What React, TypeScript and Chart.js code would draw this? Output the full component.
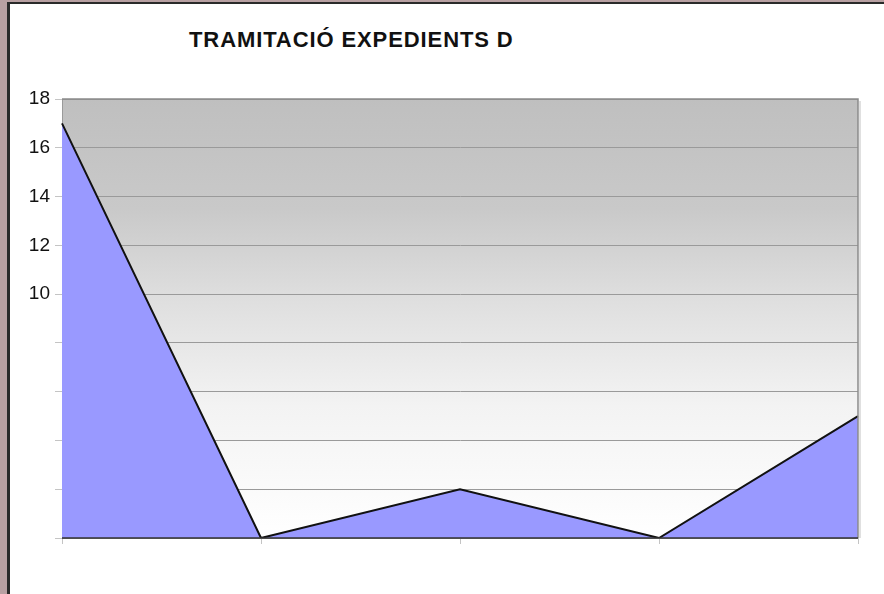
import React, { useEffect, useRef } from "react";
import { Chart, registerables } from "chart.js";

Chart.register(...registerables);

const chartTitle = "TRAMITACIÓ EXPEDIENTS D";
const categories = ["1", "2", "3", "4", "5"];
const seriesValues = [17, 0, 2, 0, 5];
const labelledTicks = [10, 12, 14, 16, 18];

const plotBackground = {
  id: "plotBackground",
  beforeDraw(chart: any) {
    const { ctx, chartArea } = chart;
    if (!chartArea) return;
    const { left, top, right, bottom } = chartArea;
    const g = ctx.createLinearGradient(0, top, 0, bottom);
    g.addColorStop(0, "#bfbfbf");
    g.addColorStop(0.25, "#c9c9c9");
    g.addColorStop(0.45, "#dedede");
    g.addColorStop(0.7, "#f3f3f3");
    g.addColorStop(1, "#ffffff");
    ctx.save();
    ctx.fillStyle = g;
    ctx.fillRect(left, top, right - left, bottom - top);
    ctx.restore();
  },
  afterDatasetsDraw(chart: any) {
    const { ctx, chartArea } = chart;
    const { left, top, right, bottom } = chartArea;
    ctx.save();
    ctx.strokeStyle = "#8a8a8a";
    ctx.lineWidth = 1.5;
    ctx.beginPath();
    ctx.moveTo(left, top);
    ctx.lineTo(right, top);
    ctx.lineTo(right, bottom);
    ctx.stroke();
    ctx.strokeStyle = "rgba(0,0,0,0.12)";
    ctx.lineWidth = 2;
    ctx.beginPath();
    ctx.moveTo(right + 2, top + 2);
    ctx.lineTo(right + 2, bottom);
    ctx.stroke();
    ctx.strokeStyle = "#333333";
    ctx.lineWidth = 1.5;
    ctx.beginPath();
    ctx.moveTo(left, bottom);
    ctx.lineTo(right, bottom);
    ctx.stroke();
    ctx.restore();
  },
};

export default function App() {
  const ref = useRef<HTMLCanvasElement | null>(null);

  useEffect(() => {
    document.body.style.margin = "0";
    const canvas = ref.current;
    if (!canvas) return;
    const chart = new Chart(canvas, {
      type: "line",
      data: {
        labels: categories,
        datasets: [
          {
            data: seriesValues,
            fill: "origin",
            backgroundColor: "#9999ff",
            borderColor: "#111111",
            borderWidth: 2,
            pointRadius: 0,
            tension: 0,
          },
        ],
      },
      options: {
        animation: false,
        responsive: false,
        maintainAspectRatio: false,
        plugins: {
          legend: { display: false },
          tooltip: { enabled: false },
          title: { display: false },
        },
        layout: { padding: { left: 0, top: 99, right: 26, bottom: 46 } },
        scales: {
          x: {
            offset: false,
            grid: {
              drawOnChartArea: false,
              drawTicks: true,
              tickLength: 6,
              tickColor: "#c4c4c4",
            },
            border: { display: false },
            ticks: { callback: () => "", maxRotation: 0, autoSkip: false },
            afterFit: (scale: any) => {
              scale.height = 10;
            },
          },
          y: {
            min: 0,
            max: 18,
            grid: {
              color: "#9a9a9a",
              lineWidth: 1,
              drawTicks: true,
              tickLength: 7,
              tickColor: "#c4c4c4",
            },
            border: { display: true, color: "#9a9a9a", width: 1 },
            ticks: {
              stepSize: 2,
              padding: 5,
              color: "#111111",
              font: { family: "Liberation Sans, Arial, sans-serif", size: 19 },
              callback: (v: any) =>
                labelledTicks.includes(Number(v)) ? String(v) : "",
            },
            afterFit: (scale: any) => {
              scale.width = 62;
            },
          },
        },
      },
      plugins: [plotBackground],
    });
    return () => chart.destroy();
  }, []);

  return (
    <div
      style={{
        position: "relative",
        width: 884,
        height: 594,
        background: "#b8a0a2",
        overflow: "hidden",
      }}
    >
      <div
        style={{
          position: "absolute",
          left: 7,
          top: 2,
          width: 884,
          height: 600,
          background: "#ffffff",
          borderLeft: "3px solid #2a2a2a",
          borderTop: "2px solid #2a2a2a",
        }}
      />
      <div
        style={{
          position: "absolute",
          left: 189,
          top: 27,
          fontFamily: "Liberation Sans, Arial, sans-serif",
          fontWeight: "bold",
          fontSize: 22,
          letterSpacing: 0.9,
          color: "#111111",
          whiteSpace: "nowrap",
        }}
      >
        {chartTitle}
      </div>
      <canvas
        ref={ref}
        width={884}
        height={594}
        style={{ position: "absolute", left: 0, top: 0, width: 884, height: 594 }}
      />
    </div>
  );
}
